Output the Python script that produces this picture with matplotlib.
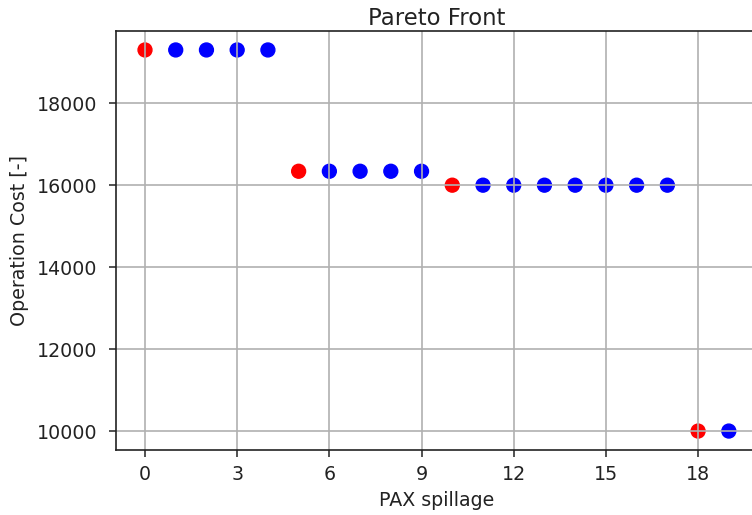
import matplotlib
matplotlib.use("Agg")
import matplotlib.pyplot as plt

# Pareto front: PAX spillage vs operation cost
pax_spillage = list(range(20))
operation_cost = [19300, 19300, 19300, 19300, 19300,
                  16340, 16340, 16340, 16340, 16340,
                  16000, 16000, 16000, 16000, 16000, 16000, 16000, 16000,
                  10000, 10000]
is_front = [True, False, False, False, False,
            True, False, False, False, False,
            True, False, False, False, False, False, False, False,
            True, False]
x_ticks = [0, 3, 6, 9, 12, 15, 18]
y_ticks = [10000, 12000, 14000, 16000, 18000]

colors = ["red" if f else "blue" for f in is_front]

fig = plt.figure(figsize=(7.52, 5.15), dpi=100)
ax = fig.add_axes([0.154, 0.126, 0.854, 0.814])
ax.scatter(pax_spillage, operation_cost, c=colors, s=100)
ax.set_xticks(x_ticks)
ax.set_yticks(y_ticks)
ax.tick_params(labelsize=13.7, length=5, width=1.1, colors="#222222")
ax.tick_params(axis="x", pad=5.5)
ax.tick_params(axis="y", pad=8)
for sp in ax.spines.values():
    sp.set_linewidth(1.2)
    sp.set_color("#222222")
ax.set_xlabel("PAX spillage", fontsize=13.7, color="#222222", labelpad=5)
ax.set_ylabel("Operation Cost [-]", fontsize=13.7, color="#222222", labelpad=6)
ax.set_title("Pareto Front", fontsize=16.4, color="#222222", pad=4.5)
ax.grid(True, linewidth=1.2)

fig.savefig("out.png", dpi=100)
